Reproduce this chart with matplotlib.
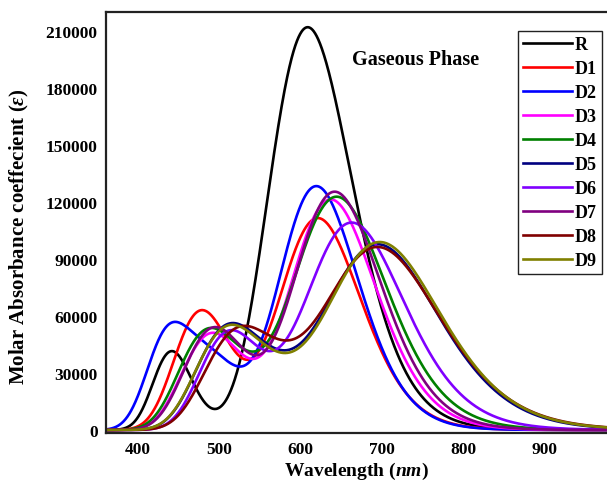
import numpy as np
import matplotlib
matplotlib.use("Agg")
import matplotlib.pyplot as plt

# Absorption bands for each compound: centre (nm), peak molar absorptivity, half-width (cm^-1)
series_names = ["R", "D1", "D2", "D3", "D4", "D5", "D6", "D7", "D8", "D9"]
series_colors = ["#000000", "#FF0000", "#0000FF", "#FF00FF", "#008000",
                 "#000080", "#8000FF", "#800080", "#800000", "#808000"]

R_centres = [442, 609]
R_heights = [41500, 212000]
R_widths = [1750, 1950]

D1_centres = [479, 622]
D1_heights = [63000, 111000]
D1_widths = [2200, 1800]

D2_centres = [441, 503, 620]
D2_heights = [54000, 26500, 128000]
D2_widths = [2200, 1800, 1770]

D3_centres = [492, 638]
D3_heights = [51000, 120500]
D3_widths = [2300, 1800]

D4_centres = [487, 550, 646]
D4_heights = [52000, 8000, 121500]
D4_widths = [2300, 1800, 1900]

D5_centres = [513, 590, 698]
D5_heights = [54500, 11000, 96000]
D5_widths = [2300, 1800, 1950]

D6_centres = [514, 664]
D6_heights = [52000, 108500]
D6_widths = [2100, 1900]

D7_centres = [495, 643]
D7_heights = [54000, 124500]
D7_widths = [2300, 1800]

D8_centres = [525, 590, 698]
D8_heights = [52000, 8000, 94500]
D8_widths = [2300, 1800, 2000]

D9_centres = [512, 587, 700]
D9_heights = [53500, 11000, 97500]
D9_widths = [2300, 1800, 1950]

bands = [
    (R_centres, R_heights, R_widths),
    (D1_centres, D1_heights, D1_widths),
    (D2_centres, D2_heights, D2_widths),
    (D3_centres, D3_heights, D3_widths),
    (D4_centres, D4_heights, D4_widths),
    (D5_centres, D5_heights, D5_widths),
    (D6_centres, D6_heights, D6_widths),
    (D7_centres, D7_heights, D7_widths),
    (D8_centres, D8_heights, D8_widths),
    (D9_centres, D9_heights, D9_widths),
]

y_ticks = [0, 30000, 60000, 90000, 120000, 150000, 180000, 210000]
x_ticks = [400, 500, 600, 700, 800, 900]


def spectrum(wl, centres, heights, widths):
    """Gaussian-broadened spectrum, bands broadened in wavenumber."""
    nu = 1e7 / wl
    eps = np.zeros_like(wl)
    for c, h, w in zip(centres, heights, widths):
        eps += h * np.exp(-((nu - 1e7 / c) / w) ** 2)
    return eps


plt.rcParams["font.family"] = ["Liberation Serif", "DejaVu Serif"]
plt.rcParams["font.weight"] = "bold"
plt.rcParams["mathtext.fontset"] = "custom"
plt.rcParams["mathtext.rm"] = "Liberation Serif:bold"
plt.rcParams["mathtext.bf"] = "Liberation Serif:bold"
plt.rcParams["mathtext.it"] = "Liberation Serif:bold:italic"

fig = plt.figure(figsize=(6.07, 4.85), dpi=100)
ax = fig.add_axes([106 / 607, 1 - 434 / 485, 1 - 106 / 607, (434 - 13) / 485])

wl = np.linspace(355, 990, 1400)
for name, color, (c, h, w) in zip(series_names, series_colors, bands):
    ax.plot(wl, spectrum(wl, c, h, w), color=color, lw=1.9, label=name)

ax.set_xlim(361, 977)
ax.set_ylim(-1600, 220000)
ax.set_xticks(x_ticks)
ax.set_yticks(y_ticks)
ax.set_yticklabels([str(v) for v in y_ticks])
ax.tick_params(length=0, labelsize=12.5, pad=6)
for lab in ax.get_xticklabels() + ax.get_yticklabels():
    lab.set_fontweight("bold")

for side in ["left", "bottom", "top"]:
    ax.spines[side].set_linewidth(1.6)
    ax.spines[side].set_color("#222222")
ax.spines["right"].set_visible(False)

ax.set_xlabel("Wavelength ($\\mathit{nm}$)", fontsize=14, fontweight="bold", labelpad=2)
ax.set_ylabel("Molar Absorbance coeffecient ($\\mathit{\\varepsilon}$)", fontsize=15,
              fontweight="bold")
ax.yaxis.set_label_coords(-(106 - 31) / 501, 0.468)

ax.text(352 / 607, 1 - 60 / 485, "Gaseous Phase", transform=fig.transFigure,
        fontsize=14.5, fontweight="bold", va="center", ha="left")

leg = ax.legend(loc="upper left", bbox_to_anchor=(518 / 607, 1 - 32 / 485),
                bbox_transform=fig.transFigure, borderaxespad=0, fancybox=False,
                edgecolor="#222222", framealpha=1, handlelength=2.7,
                handletextpad=0.15, labelspacing=0.39, borderpad=0.28,
                prop={"weight": "bold", "size": 13})
leg.get_frame().set_linewidth(1.0)

fig.savefig("out.png", dpi=100)
